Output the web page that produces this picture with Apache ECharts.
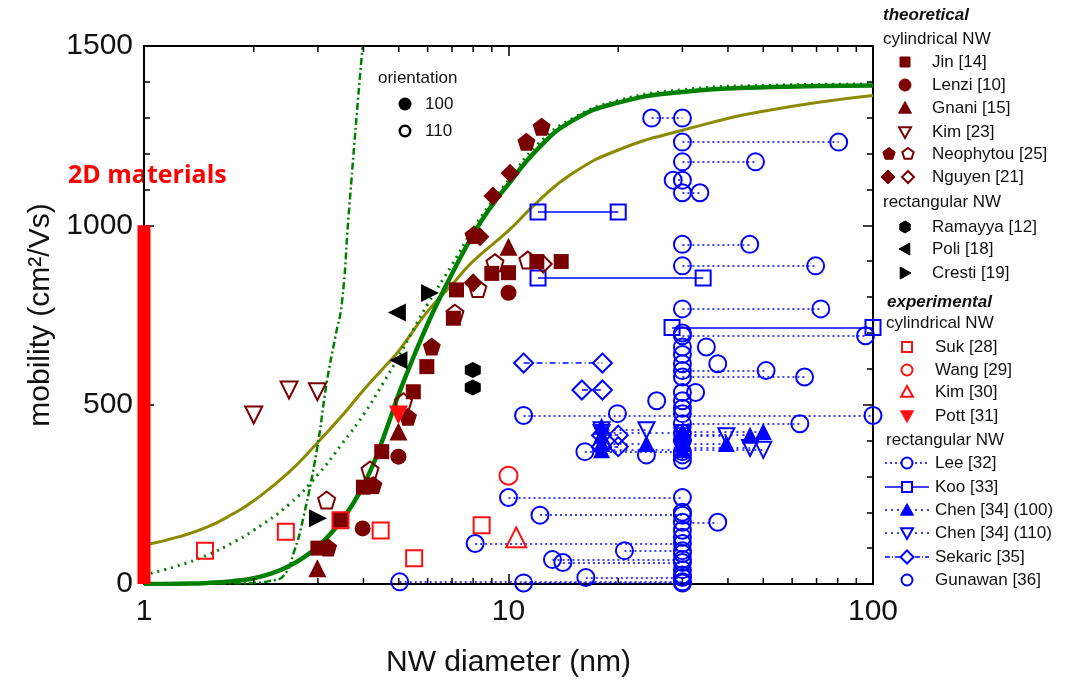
<!DOCTYPE html>
<html><head><meta charset="utf-8">
<script src="https://cdn.jsdelivr.net/npm/echarts@6/dist/echarts.min.js"></script>
<style>html,body{margin:0;padding:0;background:#fff}#c{width:1075px;height:684px}</style>
</head><body><div id="c"></div>
<script>
// ---------- axis ticks ----------
const xMajorTicks = [1, 10, 100];
const xMinorTicks = [2,3,4,5,6,7,8,9,20,30,40,50,60,70,80,90];
const yTicks = [0, 500, 1000, 1500];

// ---------- model curves [diameter nm, mobility] ----------
const curveSolid = [[1,0],[1.25,1],[1.5,3],[1.75,8],[2,16],[2.25,30],[2.5,50],[2.75,75],[3,105],[3.25,140],[3.5,180],[3.75,225],[4,275],[4.25,333],[4.5,398],[4.75,465],[5,530],[5.5,635],[6,725],[6.5,800],[7,865],[8,975],[9,1055],[10,1115],[12,1212],[15,1292],[20,1342],[30,1372],[50,1385],[100,1390]];
const curveDotted = [[1,25],[1.25,52],[1.5,82],[1.75,115],[2,150],[2.5,222],[3,305],[3.5,392],[4,472],[4.5,555],[5,635],[5.5,712],[6,780],[7,890],[8,990],[9,1065],[10,1125],[12,1225],[15,1298],[20,1348],[30,1378],[50,1390],[100,1394]];
const curveDashDot = [[1,0],[1.5,1],[2,3],[2.2,8],[2.41,22],[2.58,90],[2.74,188],[2.98,374],[3.17,560],[3.35,690],[3.49,783],[3.64,1024],[3.85,1331],[3.98,1500]];
const curveOlive = [[1,108],[1.25,132],[1.5,160],[1.75,195],[2,232],[2.5,312],[3,395],[3.5,470],[4,540],[4.5,598],[5,650],[6,760],[7,835],[8,900],[10,985],[12,1065],[15,1145],[20,1210],[30,1265],[50,1318],[100,1362]];
const bar2D = [[1,0],[1,1000]];

// ---------- theoretical ----------
const jin = [[3.0,100],[3.46,178],[4.0,270],[4.49,369],[5.48,536],[5.97,606],[7.06,741],[7.2,820],[9.0,866],[10.0,868],[11.96,899],[13.95,899]];
const lenzi = [[3.98,155],[4.99,355],[10.0,812]];
const gnani = [[2.99,44],[4.99,425],[10.0,940]];
const kim23 = [[2.0,471],[2.5,541],[2.99,536]];
const neoFilled = [[3.2,102],[4.26,276],[5.3,466],[6.16,662],[8.02,973],[11.2,1233],[12.33,1275]];
const neoOpen = [[3.17,234],[4.17,318],[5.15,508],[7.13,755],[8.24,824],[9.18,896],[11.3,903]];
const nguyenFilled = [[8.0,840],[8.35,968],[9.06,1082],[10.1,1145]];
const nguyenOpen = [[12.45,892]];
const ramayya = [[7.98,597],[7.98,548]];
const poli = [[4.94,757],[4.99,624]];
const cresti = [[6.09,811],[3.0,183]];

// ---------- experimental cylindrical ----------
const suk = [[1.47,93],[2.45,146],[3.46,178],[4.46,149],[5.51,72],[8.44,164]];
const wang = [[10.0,302]];
const kim30 = [[10.5,130]];
const pott = [[4.99,471]];

// ---------- experimental rectangular: rows [x1, x2, mobility] ----------
const leeRows = [[24.7,30,1299],[30,80.5,1232],[30,47.6,1177],[28.3,30,1126],[30,33.5,1091],[30,45.9,947],[30,69.6,887],[30,71.9,767],[30,95.4,692],[30,50.9,595],[30,64.9,577],[11.0,100,470],[30,63,447],[16.2,30,369],[10.0,30,241],[12.2,30,192],[30,37.5,172],[8.1,30,113],[20.8,30,93],[13.2,30,68],[14.1,30,60],[16.3,30,18],[11.0,30,3],[5.03,30,6]];
const kooRows = [[12.05,20,1037],[12.05,34.2,853],[28.1,100,715]];
const chen100Rows = [[18,23.9,392],[18,30,374],[30,39.6,392],[30,46,415],[30,50,425]];
const chen100Single = [[18,440],[18,415]];
const chen110Rows = [[18,23.9,429],[18,30,421],[30,39.6,412],[30,46,379],[30,50,374]];
const sekaricRows = [[11,18.1,616],[15.9,18.1,541],[18,20,415],[18,20,383]];
const gunawan = [[30,700],[30,661],[34.9,661],[30,640],[30,614],[37.5,614],[30,534],[32.6,534],[25.5,511],[30,511],[30,490],[19.9,475],[30,475],[30,420],[30,400],[30,360],[30,345],[23.9,360],[30,200],[30,150],[30,130],[30,85],[30,40],[30,25]];

// ---------- styling ----------
const DR = '#7a0000', RED = '#ff1010', BLUE = '#0000ff', GREEN = '#008000', OLIVE = '#8c8a00';
const FONT = '"Liberation Sans", Arial, sans-serif';
const SYM = {
  pent: 'path://M0,-10L9.51,-3.09L5.88,8.09L-5.88,8.09L-9.51,-3.09Z',
  hex: 'path://M0,-10L8.66,-5L8.66,5L0,10L-8.66,5L-8.66,-5Z',
  down: 'path://M-10,-8.66L10,-8.66L0,8.66Z',
  left: 'path://M-8.66,0L8.66,-10L8.66,10Z',
  right: 'path://M8.66,0L-8.66,-10L-8.66,10Z'
};
function pts(rows){ const a=[]; rows.forEach(r=>{a.push([r[0],r[2]]);a.push([r[1],r[2]]);}); return a; }
function segs(rows){ return rows.map(r=>({coords:[[r[0],r[2]],[r[1],r[2]]]})); }
function sc(name,data,symbol,size,color,filled){
  return {type:'scatter',name,data,symbol,symbolSize:size,animation:false,z:5,
    emphasis:{disabled:true},
    itemStyle: filled?{color:color,borderWidth:0,opacity:1}:{color:'rgba(255,255,255,0)',borderColor:color,borderWidth:2,opacity:1}};
}
function curve(name,data,color,width,type,z){
  return {type:'line',name,data,smooth:0.5,showSymbol:false,symbol:'none',
    lineStyle:{color,width,type},z:z||3,animation:false};
}
function conn(name,rows,type,width){
  return {type:'lines',name,coordinateSystem:'cartesian2d',data:segs(rows),z:4,animation:false,
    lineStyle:{color:BLUE,width:width||1.5,type,opacity:1}};
}

// ---------- legend graphics ----------
function poly(n, cx, cy, r, rot){ const p=[]; for(let i=0;i<n;i++){const a=rot+i*2*Math.PI/n; p.push([cx+r*Math.sin(a), cy-r*Math.cos(a)]);} return p; }
function gsym(kind,cx,cy,s,color,filled){
  const st = filled?{fill:color,stroke:color,lineWidth:1}:{fill:'#fff',stroke:color,lineWidth:2};
  const h=s/2; let shape, type='polygon';
  if(kind==='square'){ return {type:'rect',shape:{x:cx-h,y:cy-h,width:s,height:s},style:st}; }
  if(kind==='circle'){ return {type:'circle',shape:{cx,cy,r:h},style:st}; }
  if(kind==='up') shape={points:[[cx,cy-h],[cx+h,cy+h*0.8],[cx-h,cy+h*0.8]]};
  if(kind==='down') shape={points:[[cx-h,cy-h*0.8],[cx+h,cy-h*0.8],[cx,cy+h]]};
  if(kind==='pent') shape={points:poly(5,cx,cy,h,0)};
  if(kind==='hex') shape={points:poly(6,cx,cy,h,0)};
  if(kind==='diamond') shape={points:[[cx,cy-h],[cx+h,cy],[cx,cy+h],[cx-h,cy]]};
  if(kind==='left') shape={points:[[cx-h,cy],[cx+h*0.8,cy-h],[cx+h*0.8,cy+h]]};
  if(kind==='right') shape={points:[[cx+h,cy],[cx-h*0.8,cy-h],[cx-h*0.8,cy+h]]};
  return {type,shape,style:st};
}
function gtext(t,x,y,font,color,align){
  return {type:'text',x,y,style:{text:t,font:font,fill:color||'#111',textAlign:align||'left',textVerticalAlign:'middle',align:align||'left',verticalAlign:'middle'}};
}
const LF = '17px '+FONT, LH = 'italic bold 17px '+FONT;
const g = [];
g.push(gtext('theoretical',883,15,LH));
g.push(gtext('cylindrical NW',883,39,LF));
const th = [['Jin [14]',62,[['square',905,10,true]]],['Lenzi [10]',85,[['circle',905,12,true]]],['Gnani [15]',108,[['up',905,13,true]]],
  ['Kim [23]',132,[['down',905,12,false]]],['Neophytou [25]',154,[['pent',889,13,true],['pent',908,12,false]]],
  ['Nguyen [21]',177,[['diamond',888,14,true],['diamond',908,12,false]]]];
th.forEach(e=>{ g.push(gtext(e[0],932,e[1],LF)); e[2].forEach(s=>g.push(gsym(s[0],s[1],e[1],s[2],DR,s[3]))); });
g.push(gtext('rectangular NW',883,202,LF));
[['Ramayya [12]',227,'hex'],['Poli [18]',249,'left'],['Cresti [19]',273,'right']].forEach(e=>{ g.push(gtext(e[0],932,e[1],LF)); g.push(gsym(e[2],905,e[1],12,'#000',true)); });
g.push(gtext('experimental',887,302,LH));
g.push(gtext('cylindrical NW',886,323,LF));
[['Suk [28]',347,'square',10,false],['Wang [29]',370,'circle',11,false],['Kim [30]',392,'up',12,false],['Pott [31]',416,'down',13,true]].forEach(e=>{ g.push(gtext(e[0],935,e[1],LF)); g.push(gsym(e[2],907,e[1],e[3],RED,e[4])); });
g.push(gtext('rectangular NW',886,440,LF));
[['Lee [32]',463,'circle',11,false,[2,3]],['Koo [33]',487,'square',10,false,'solid'],['Chen [34] (100)',510,'up',13,true,[2,4]],['Chen [34] (110)',533,'down',12,false,[2,4]],['Sekaric [35]',557,'diamond',13,false,[5,2,1,2]],['Gunawan [36]',580,'circle',11,false,null]].forEach(e=>{
  g.push(gtext(e[0],935,e[1],LF));
  if(e[5]) g.push({type:'line',shape:{x1:885,y1:e[1],x2:929,y2:e[1]},style:{stroke:BLUE,lineWidth:1.5,lineDash:e[5]==='solid'?null:e[5]}});
  g.push(gsym(e[2],907,e[1],e[3],BLUE,e[4]));
});
// orientation key
g.push(gtext('orientation',378,78,LF));
g.push({type:'circle',shape:{cx:405,cy:104,r:6.5},style:{fill:'#000'}});
g.push(gtext('100',425,104,LF));
g.push({type:'circle',shape:{cx:405,cy:131,r:5.2},style:{fill:'#fff',stroke:'#000',lineWidth:2.5}});
g.push(gtext('110',425,131,LF));
// 2D materials label
g.push(gtext('2D materials',68,176,'bold 25px "Open Sans", sans-serif','#ff0000'));

const axisCommon = {axisLine:{show:true,onZero:false,lineStyle:{color:'#000',width:2}},splitLine:{show:false}};
const option = {
  backgroundColor:'#fff',
  animation:false,
  grid:{left:144,right:202,top:46,bottom:100,containLabel:false},
  xAxis:[
    Object.assign({type:'log',logBase:10,min:xMajorTicks[0],max:xMajorTicks[2],position:'bottom',
      name:'NW diameter (nm)',nameLocation:'middle',nameGap:64,
      nameTextStyle:{fontFamily:FONT,fontSize:30,color:'#111'},
      axisTick:{inside:true,length:10,lineStyle:{width:1.5,color:'#000'}},
      axisLabel:{fontFamily:FONT,fontSize:30,color:'#111',margin:13,formatter:v=>String(v)}},axisCommon),
    Object.assign({type:'log',logBase:10,min:xMajorTicks[0],max:xMajorTicks[2],position:'top',
      axisTick:{inside:true,length:10,lineStyle:{width:1.5,color:'#000'}},axisLabel:{show:false}},axisCommon)
  ],
  yAxis:[
    Object.assign({type:'value',min:yTicks[0],max:yTicks[3],interval:500,position:'left',
      name:'mobility (cm²/Vs)',nameLocation:'middle',nameGap:88,
      nameTextStyle:{fontFamily:FONT,fontSize:30,color:'#111'},
      axisTick:{inside:true,length:10,lineStyle:{width:1.5,color:'#000'}},
      minorTick:{show:true,splitNumber:5,length:6,lineStyle:{width:1.5,color:'#000'}},
      axisLabel:{fontFamily:FONT,fontSize:30,color:'#111',margin:11,formatter:v=>String(v)}},axisCommon),
    Object.assign({type:'value',min:yTicks[0],max:yTicks[3],interval:500,position:'right',
      axisTick:{inside:true,length:10,lineStyle:{width:1.5,color:'#000'}},
      minorTick:{show:true,splitNumber:5,length:6,lineStyle:{width:1.5,color:'#000'}},
      axisLabel:{show:false}},axisCommon)
  ],
  graphic:g,
  series:[
    curve('olive',curveOlive,OLIVE,3,'solid',2),
    curve('dashdot',curveDashDot,GREEN,2.5,[7,3,2,3],2),
    curve('dotted',curveDotted,GREEN,3,[2,5],3),
    curve('solid',curveSolid,GREEN,4.5,'solid',3),
    {type:'custom',name:'minorTicks',silent:true,clip:false,animation:false,z:10,
      data:xMinorTicks.map(v=>[v,0]),encode:{x:0,y:1},
      renderItem:function(p,api){
        const b=api.coord([api.value(0),yTicks[0]]), t=api.coord([api.value(0),yTicks[3]]);
        return {type:'group',children:[
          {type:'line',shape:{x1:b[0],y1:b[1],x2:b[0],y2:b[1]-6},style:{stroke:'#000',lineWidth:1.5}},
          {type:'line',shape:{x1:t[0],y1:t[1],x2:t[0],y2:t[1]+6},style:{stroke:'#000',lineWidth:1.5}}]};
      }},
    conn('Lee conn',leeRows,[2,3]),
    conn('Koo conn',kooRows,'solid'),
    conn('Chen100 conn',chen100Rows,[2,4]),
    conn('Chen110 conn',chen110Rows,[2,4]),
    conn('Sekaric conn',sekaricRows,[6,3,1,3]),
    sc('Lee [32]',pts(leeRows),'circle',17,BLUE,false),
    sc('Gunawan [36]',gunawan,'circle',17,BLUE,false),
    sc('Koo [33]',pts(kooRows),'rect',15,BLUE,false),
    sc('Sekaric [35]',pts(sekaricRows),'diamond',19,BLUE,false),
    sc('Chen [34] (110)',pts(chen110Rows),SYM.down,16,BLUE,false),
    sc('Chen [34] (100)',pts(chen100Rows).concat(chen100Single),'triangle',17,BLUE,true),
    sc('Jin [14]',jin,'rect',15,DR,true),
    sc('Lenzi [10]',lenzi,'circle',16,DR,true),
    sc('Gnani [15]',gnani,'triangle',18,DR,true),
    sc('Kim [23]',kim23,SYM.down,17,DR,false),
    sc('Neophytou filled',neoFilled,SYM.pent,18,DR,true),
    sc('Neophytou open',neoOpen,SYM.pent,17,DR,false),
    sc('Nguyen filled',nguyenFilled,'diamond',19,DR,true),
    sc('Nguyen open',nguyenOpen,'diamond',17,DR,false),
    sc('Ramayya [12]',ramayya,SYM.hex,16,'#000',true),
    sc('Poli [18]',poli,SYM.left,18,'#000',true),
    sc('Cresti [19]',cresti,SYM.right,18,'#000',true),
    sc('Suk [28]',suk,'rect',16,RED,false),
    sc('Wang [29]',wang,'circle',18,RED,false),
    sc('Kim [30]',kim30,'triangle',20,RED,false),
    sc('Pott [31]',pott,SYM.down,19,RED,true),
    {type:'line',name:'2D materials',data:bar2D,showSymbol:false,symbol:'none',clip:false,z:8,animation:false,
      lineStyle:{color:'#ff0000',width:13,cap:'butt'}}
  ]
};
echarts.init(document.getElementById('c')).setOption(option);
</script></body></html>
